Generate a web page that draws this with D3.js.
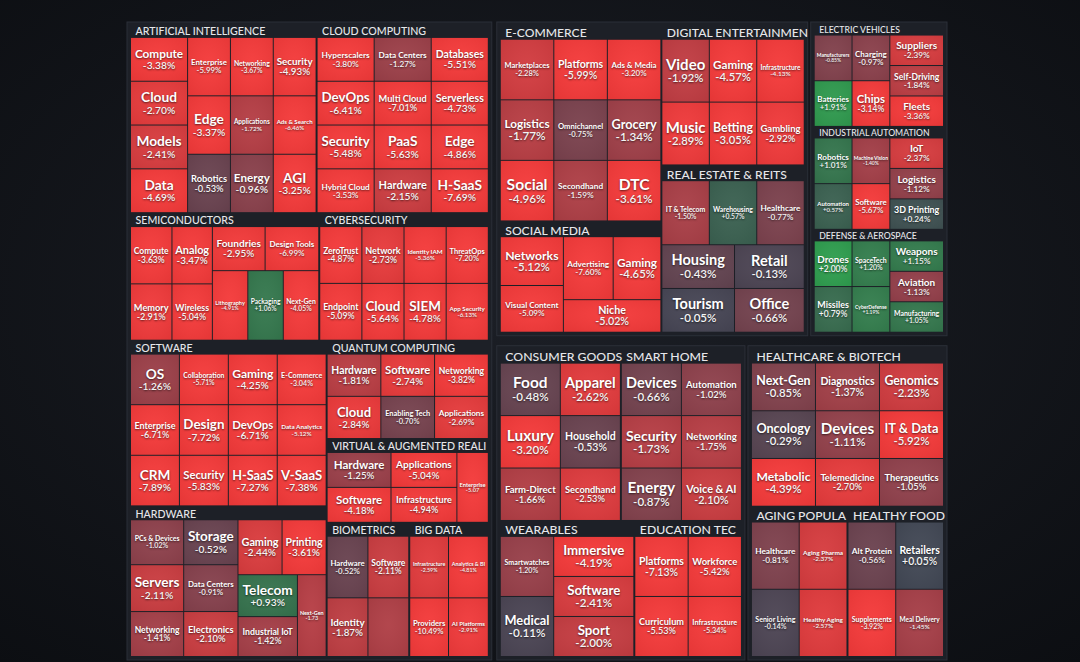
<!DOCTYPE html>
<html><head><meta charset="utf-8">
<script src="https://cdn.jsdelivr.net/npm/d3@7"></script>
<style>
html,body{margin:0;padding:0;background:#111318;overflow:hidden;}
svg{display:block;}
text{font-family:Lato,"Open Sans",sans-serif;}
.nm,.pc{text-shadow:0 1px 2px rgba(0,0,0,0.6);}
</style></head><body>
<svg id="chart" width="1080" height="662"></svg>
<script>
// ---------------- DATA: [name, % change, size weight] ----------------
const cellsAI = [["Compute",-3.38,24],["Cloud",-2.70,24],["Models",-2.41,24],["Data",-4.69,24],
  ["Enterprise",-5.99,24],["Edge",-3.37,24],["Robotics",-0.53,24],
  ["Networking",-3.67,24],["Applications",-1.72,24],["Energy",-0.96,24],
  ["Security",-4.93,24],["Ads & Search",-6.46,24],["AGI",-3.25,24]];
const cellsCloud = [["Hyperscalers",-3.80,24],["Data Centers",-1.27,24],["Databases",-5.51,24],
  ["DevOps",-6.41,24],["Multi Cloud",-7.01,24],["Serverless",-4.73,24],
  ["Security",-5.48,24],["PaaS",-5.63,24],["Edge",-4.86,24],
  ["Hybrid Cloud",-3.53,24],["Hardware",-2.15,24],["H-SaaS",-7.69,24]];
const cellsSemi = [["Compute",-3.63,23.7],["Memory",-2.91,23.3],["Analog",-3.47,23.1],["Wireless",-5.04,22.7],
  ["Foundries",-2.95,23.2],["Design Tools",-6.99,23.6],["Lithography",-4.91,24.6],["Packaging",1.06,24.6],["Next-Gen",-4.05,24.6]];
const cellsCyber = [["ZeroTrust",-4.87,23.9],["Network",-2.73,23.9],["Identity IAM",-5.36,23.9],["ThreatOps",-7.20,23.9],
  ["Endpoint",-5.09,23.9],["Cloud",-5.64,23.9],["SIEM",-4.78,23.9],["App Security",-6.13,23.9]];
const cellsSoftware = [["OS",-1.26,24],["Collaboration",-5.71,24],["Gaming",-4.25,24],["E-Commerce",-3.04,24],
  ["Enterprise",-6.71,24],["Design",-7.72,24],["DevOps",-6.71,24],["Data Analytics",-5.12,24],
  ["CRM",-7.89,24],["Security",-5.83,24],["H-SaaS",-7.27,24],["V-SaaS",-7.38,24]];
const cellsQuantum = [["Hardware",-1.81,23.5],["Software",-2.74,23.5],["Networking",-3.82,23.5],
  ["Cloud",-2.84,23.5],["Enabling Tech",-0.70,23.5],["Applications",-2.69,23.5]];
const cellsVR = [["Hardware",-1.25,23.8],["Software",-4.18,23.8],["Applications",-5.04,24.55],["Infrastructure",-4.94,24.55],["Enterprise",-5.07,23.4]];
const cellsHardware = [["PCs & Devices",-1.02,23.4],["Servers",-2.11,24.4],["Networking",-1.41,23.4],
  ["Storage",-0.52,23.9],["Data Centers",-0.91,24.9],["Electronics",-2.10,23.9],
  ["Gaming",-2.44,23.7],["Printing",-3.61,23.7],["Telecom",0.93,24.4],["Industrial IoT",-1.42,23.2],["Next-Gen",-1.73,23.0]];
const cellsBio = [["Hardware",-0.52,25.1],["Identity",-1.87,23.9],["Software",-2.11,25.1],["",-1.60,23.9]];
const cellsBigData = [["Infrastructure",-2.59,23.9],["Providers",-10.49,22.7],["Analytics & BI",-4.81,24.5],["AI Platforms",-2.91,23.3]];

const cellsEcom = [["Marketplaces",-2.28,32.2],["Platforms",-5.99,32.2],["Ads & Media",-3.20,32.2],
  ["Logistics",-1.77,32.2],["Omnichannel",-0.75,32.2],["Grocery",-1.34,32.2],
  ["Social",-4.96,32.2],["Secondhand",-1.59,32.2],["DTC",-3.61,32.2]];
const cellsEnt = [["Video",-1.92,30.7],["Gaming",-4.57,30.7],["Infrastructure",-4.13,30.7],
  ["Music",-2.89,30.7],["Betting",-3.05,30.7],["Gambling",-2.92,30.7]];
const cellsRE = [["IT & Telecom",-1.50,30.7],["Warehousing",0.57,30.7],["Healthcare",-0.77,30.7],
  ["Housing",-0.43,32.1],["Tourism",-0.05,32.1],["Retail",-0.13,30.8],["Office",-0.66,30.8]];
const cellsSocial = [["Networks",-5.12,32.8],["Visual Content",-5.09,31.4],["Advertising",-7.60,33.4],["Gaming",-4.65,32.0],["Niche",-5.02,33.8]];

const cellsEV = [["Manufacturers",-0.85,18.5],["Batteries",1.91,18.5],["Charging",-0.97,18.5],["Chips",-3.14,18.5],
  ["Suppliers",-2.39,17.5],["Self-Driving",-1.84,17.5],["Fleets",-3.36,17.5]];
const cellsIA = [["Robotics",1.01,18.5],["Automation",0.57,18.5],["Machine Vision",-1.40,18.5],["Software",-5.67,18.5],
  ["IoT",-2.37,17.5],["Logistics",-1.12,17.5],["3D Printing",0.24,17.5]];
const cellsDef = [["Drones",2.00,18.5],["Missiles",0.79,18.5],["SpaceTech",1.20,18.5],["CyberDefense",1.19,18.5],
  ["Weapons",1.15,17.5],["Aviation",-1.13,17.5],["Manufacturing",1.05,17.5]];

const cellsCons = [["Food",-0.48,32],["Luxury",-3.20,32],["Farm-Direct",-1.66,32],["Apparel",-2.62,32],["Household",-0.53,32],["Secondhand",-2.53,32]];
const cellsHome = [["Devices",-0.66,32],["Security",-1.73,32],["Energy",-0.87,32],["Automation",-1.02,32],["Networking",-1.75,32],["Voice & AI",-2.10,32]];
const cellsWear = [["Smartwatches",-1.20,33.5],["Medical",-0.11,33.5],["Immersive",-4.19,33.5],["Software",-2.41,33.5],["Sport",-2.00,33.5]];
const cellsEdu = [["Platforms",-7.13,33.5],["Curriculum",-5.53,33.5],["Workforce",-5.42,33.5],["Infrastructure",-5.34,33.5]];

const cellsHealth = [["Next-Gen",-0.85,31.5],["Diagnostics",-1.37,31.5],["Genomics",-2.23,31.5],
  ["Oncology",-0.29,31.5],["Devices",-1.11,31.5],["IT & Data",-5.92,31.5],
  ["Metabolic",-4.39,31.5],["Telemedicine",-2.70,31.5],["Therapeutics",-1.05,31.5]];
const cellsAging = [["Healthcare",-0.81,33.5],["Senior Living",-0.14,33.5],["Aging Pharma",-2.37,33.5],["Healthy Aging",-2.57,33.5]];
const cellsFood = [["Alt Protein",-0.56,33.5],["Supplements",-3.92,33.5],["Retailers",0.05,33.5],["Meal Delivery",-1.45,33.5]];

const colorStops = [-3,-2,-1,0,1,2,3];
const colorRange = ["#f43a3a","#c53d42","#8d414c","#434655","#35764e","#2f9e4f","#30cc5a"];

// ---------------- ARRANGEMENT ----------------
const H = (...k) => ({dir:"h", k});
const V = (...k) => ({dir:"v", k});
const P = g => ({panel:true, dir:g.dir, k:g.k});
const sec = (title, cells, shape) => ({title, cells, shape});

const S = {
  ai: sec("ARTIFICIAL INTELLIGENCE", cellsAI, H(V(0,1,2,3),V(4,5,6),V(7,8,9),V(10,11,12))),
  cloud: sec("CLOUD COMPUTING", cellsCloud, V(H(0,1,2),H(3,4,5),H(6,7,8),H(9,10,11))),
  semi: sec("SEMICONDUCTORS", cellsSemi, H(V(0,1),V(2,3),V(H(4,5),H(6,7,8)))),
  cyber: sec("CYBERSECURITY", cellsCyber, H(V(0,4),V(1,5),V(2,6),V(3,7))),
  software: sec("SOFTWARE", cellsSoftware, H(V(0,4,8),V(1,5,9),V(2,6,10),V(3,7,11))),
  quantum: sec("QUANTUM COMPUTING", cellsQuantum, V(H(0,1,2),H(3,4,5))),
  vr: sec("VIRTUAL & AUGMENTED REALI", cellsVR, H(V(0,1),V(2,3),4)),
  hardware: sec("HARDWARE", cellsHardware, H(V(0,1,2),V(3,4,5),V(H(6,7),H(V(8,9),10)))),
  bio: sec("BIOMETRICS", cellsBio, H(V(0,1),V(2,3))),
  bigdata: sec("BIG DATA", cellsBigData, H(V(0,1),V(2,3))),
  ecom: sec("E-COMMERCE", cellsEcom, V(H(0,1,2),H(3,4,5),H(6,7,8))),
  ent: sec("DIGITAL ENTERTAINMEN", cellsEnt, V(H(0,1,2),H(3,4,5))),
  re: sec("REAL ESTATE & REITS", cellsRE, V(H(0,1,2),H(V(3,4),V(5,6)))),
  social: sec("SOCIAL MEDIA", cellsSocial, H(V(0,1),V(H(2,3),4))),
  ev: sec("ELECTRIC VEHICLES", cellsEV, H(V(0,1),V(2,3),V(4,5,6))),
  ia: sec("INDUSTRIAL AUTOMATION", cellsIA, H(V(0,1),V(2,3),V(4,5,6))),
  def: sec("DEFENSE & AEROSPACE", cellsDef, H(V(0,1),V(2,3),V(4,5,6))),
  cons: sec("CONSUMER GOODS", cellsCons, H(V(0,1,2),V(3,4,5))),
  home: sec("SMART HOME", cellsHome, H(V(0,1,2),V(3,4,5))),
  wear: sec("WEARABLES", cellsWear, H(V(0,1),V(2,3,4))),
  edu: sec("EDUCATION TEC", cellsEdu, H(V(0,1),V(2,3))),
  health: sec("HEALTHCARE & BIOTECH", cellsHealth, V(H(0,1,2),H(3,4,5),H(6,7,8))),
  aging: sec("AGING POPULA", cellsAging, H(V(0,1),V(2,3))),
  food: sec("HEALTHY FOOD", cellsFood, H(V(0,1),V(2,3)))
};

const arrangement = H(
  P(V(H(S.ai,S.cloud), H(S.semi,S.cyber), H(V(S.software,S.hardware), V(S.quantum,S.vr,H(S.bio,S.bigdata))))),
  V(H(P(H(V(S.ecom,S.social),V(S.ent,S.re))), P(V(S.ev,S.ia,S.def))),
    H(P(V(H(S.cons,S.home),H(S.wear,S.edu))), P(V(S.health,H(S.aging,S.food)))))
);

function buildStrip(k, cells){
  if (typeof k === "number"){ const c = cells[k]; return {kind:"cell", name:c[0], chg:c[1], w:c[2]}; }
  return {kind:"strip", dir:k.dir, children:k.k.map(x => buildStrip(x, cells))};
}
function build(n){
  if (n.title) return {kind:"sector", title:n.title, dir:n.shape.dir, children:n.shape.k.map(k => buildStrip(k, n.cells))};
  return {kind: n.panel ? "panel" : "group", dir:n.dir, children:n.k.map(build)};
}
const tree = build(arrangement);

// ---------------- LAYOUT ----------------
const X0 = 127, Y0 = 22, CW = 820, CH = 638;
const outerGaps = [5, 10, 3];
const tileFn = (node, x0, y0, x1, y1) => (node.data.dir === "v" ? d3.treemapSlice : d3.treemapDice)(node, x0, y0, x1, y1);
const panelOf = n => n.ancestors().find(a => a.data.kind === "panel");
const scaleMap = new Map();
const hdrH = n => 14 * (scaleMap.get(panelOf(n).data) || 1);

function runLayout(){
  const root = d3.hierarchy(tree).sum(d => d.kind === "cell" ? d.w : 0);
  d3.treemap().size([CW, CH]).tile(tileFn)
    .paddingInner(n => {
      const k = n.data.kind;
      if (k === "sector" || k === "strip") return 1;
      if (k === "panel") return 2;
      return panelOf(n) ? 2 : outerGaps[n.depth];
    })
    .paddingTop(n => n.data.kind === "sector" ? hdrH(n) : n.data.kind === "panel" ? 3 : 0)
    .paddingLeft(n => n.data.kind === "panel" ? 4 : 0)
    .paddingRight(n => n.data.kind === "panel" ? 4 : 0)
    .paddingBottom(n => n.data.kind === "panel" ? 4 : 0)(root);
  return root;
}
let root = runLayout();
root.descendants().filter(n => n.data.kind === "panel").forEach(p => {
  const m = d3.mean(p.leaves(), l => (l.x1 - l.x0) * (l.y1 - l.y0));
  scaleMap.set(p.data, Math.sqrt(m) / 52);
});
root = runLayout();

// ---------------- DRAW ----------------
const svg = d3.select("#chart");
const defs = svg.append("defs");
const bg = defs.append("radialGradient").attr("id","bg").attr("cx","50%").attr("cy","45%").attr("r","75%");
bg.append("stop").attr("offset","0%").attr("stop-color","#1c1f26");
bg.append("stop").attr("offset","100%").attr("stop-color","#0c0e12");
const sh = defs.append("radialGradient").attr("id","shade").attr("cx","50%").attr("cy","45%").attr("r","70%");
sh.append("stop").attr("offset","0%").attr("stop-color","#fff").attr("stop-opacity",0.04);
sh.append("stop").attr("offset","100%").attr("stop-color","#000").attr("stop-opacity",0.06);

svg.append("rect").attr("width",1080).attr("height",662).attr("fill","url(#bg)");

const color = d3.scaleLinear().domain(colorStops).range(colorRange).clamp(true);
const g = svg.append("g").attr("transform", `translate(${X0},${Y0})`);

const panels = root.descendants().filter(n => n.data.kind === "panel");
g.selectAll("rect.panel").data(panels).join("rect").attr("class","panel")
  .attr("x", d => d.x0).attr("y", d => d.y0).attr("width", d => d.x1 - d.x0).attr("height", d => d.y1 - d.y0)
  .attr("fill","#1d2027").attr("stroke","#2b2f38").attr("stroke-width",1);

const sectors = root.descendants().filter(n => n.data.kind === "sector");
g.selectAll("text.hdr").data(sectors).join("text").attr("class","hdr")
  .attr("x", d => d.x0 + 4.5)
  .attr("y", d => d.y0 + hdrH(d) - 2.6)
  .attr("font-size", d => 11.5 * scaleMap.get(panelOf(d).data))
  .attr("fill","#e6e7ea").attr("font-weight",500)
  .text(d => d.data.title);

const leaves = root.leaves();
g.selectAll("rect.cell").data(leaves).join("rect").attr("class","cell")
  .attr("x", d => d.x0).attr("y", d => d.y0).attr("width", d => d.x1 - d.x0).attr("height", d => d.y1 - d.y0)
  .attr("fill", d => color(d.data.chg));
g.selectAll("rect.shade").data(leaves).join("rect").attr("class","shade")
  .attr("x", d => d.x0).attr("y", d => d.y0).attr("width", d => d.x1 - d.x0).attr("height", d => d.y1 - d.y0)
  .attr("fill","url(#shade)");

const mctx = document.createElement("canvas").getContext("2d");
function em(t, wgt){ mctx.font = `${wgt} 100px Lato`; return mctx.measureText(t).width / 100; }
const fmt = v => (v > 0 ? "+" : "") + v.toFixed(2);

leaves.filter(d => d.data.name).forEach(d => {
  const w = d.x1 - d.x0, h = d.y1 - d.y0;
  const maxF = 0.28 * Math.sqrt(w * h);
  const nF = Math.max(5, Math.min(maxF, 0.86 * w / em(d.data.name, 700), h * 0.34));
  const pctTxt = fmt(d.data.chg) + (w < 34 ? "" : "%");
  const pF = Math.max(5, Math.min(nF, 0.75 * maxF, 0.86 * w / em(pctTxt, 600)));
  const cx = (d.x0 + d.x1) / 2, cy = (d.y0 + d.y1) / 2;
  const gap = 0.3 * nF;
  const total = 0.72 * nF + gap + 0.72 * pF;
  const ny = cy - total / 2 + 0.72 * nF;
  const py = ny + gap + 0.72 * pF;
  g.append("text").attr("class","nm").attr("x",cx).attr("y",ny).attr("text-anchor","middle")
    .attr("font-size",nF).attr("font-weight",700).attr("fill","#ffffff").text(d.data.name);
  g.append("text").attr("class","pc").attr("x",cx).attr("y",py).attr("text-anchor","middle")
    .attr("font-size",pF).attr("font-weight",600).attr("fill","#f4f4f4").text(pctTxt);
});
</script>
</body></html>
